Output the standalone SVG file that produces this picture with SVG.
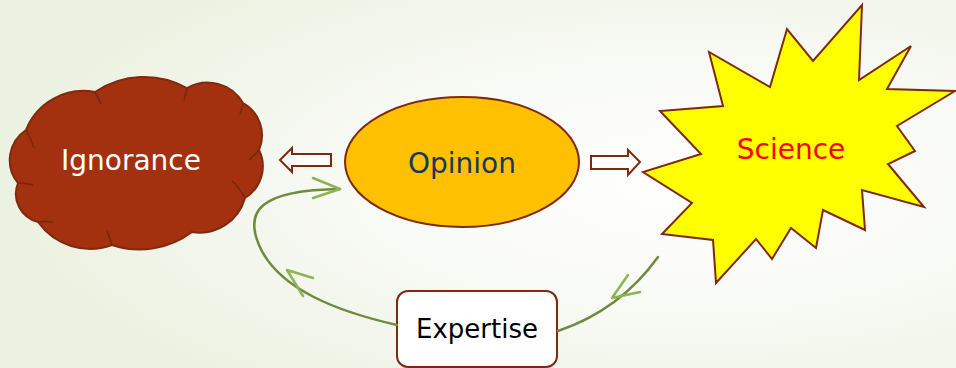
<svg xmlns="http://www.w3.org/2000/svg" width="956" height="368" viewBox="0 0 956 368">
<defs>
<radialGradient id="bg" cx="0.72" cy="0.5" r="0.75">
<stop offset="0" stop-color="#ffffff"/>
<stop offset="0.5" stop-color="#f7f9f3"/>
<stop offset="1" stop-color="#ebf1e0"/>
</radialGradient>
<style>
.shape{stroke:#7f2a0e;stroke-width:2;stroke-linejoin:miter}
.lbl{font-family:"DejaVu Sans",sans-serif;text-anchor:middle}
.conn{fill:none;stroke:#6f8c3e;stroke-width:2.5;stroke-linecap:round}
.head{fill:none;stroke:#8fb255;stroke-width:2.5;stroke-linecap:round;stroke-linejoin:round}
.crease{fill:none;stroke:#7a260c;stroke-width:1.5}
</style>
</defs>
<rect width="956" height="368" fill="url(#bg)"/>

<g id="ignorance">
<path class="shape" fill="#a3300f" d="M26,130 A62,62 0 0 1 95,92 A88,88 0 0 1 187,88 A41,41 0 0 1 243,103 A37,37 0 0 1 259,150 A37,37 0 0 1 245,198 A47,47 0 0 1 192,232 A87,87 0 0 1 112,245 A64,64 0 0 1 38,222 A29,29 0 0 1 18,183 A36,36 0 0 1 26,130 Z"/>
<path class="crease" d="M26,130 Q31,139 34,148"/>
<path class="crease" d="M95,92 Q98,98 101,104"/>
<path class="crease" d="M187,88 Q186,94 184,100"/>
<path class="crease" d="M243,103 Q242,109 240,114"/>
<path class="crease" d="M259,150 Q254,156 249,160"/>
<path class="crease" d="M245,198 Q240,188 232,181"/>
<path class="crease" d="M112,245 Q110,238 107,231"/>
<path class="crease" d="M38,222 Q45,221 53,222"/>
<path class="crease" d="M18,183 Q26,183 33,185"/>
<text class="lbl" x="131" y="170" font-size="28" fill="#ffffff">Ignorance</text>
</g>

<g id="opinion">
<ellipse class="shape" cx="462" cy="162" rx="117" ry="65" fill="#ffc000"/>
<text class="lbl" x="462" y="173" font-size="28" fill="#17375e">Opinion</text>
</g>

<g id="science">
<path class="shape" fill="#ffff00" d="M862,5 L859,80 L911,46 L887,89 L955,91 L897,126 L915,151 L888,164 L924,207 L862,190 L865,230 L823,210 L816,248 L791,228 L772,259 L756,239 L716,283 L713,240 L662,234 L692,203 L643,172 L701,154 L660,111 L723,106 L709,52 L770,87 L787,29 L813,61 Z"/>
<text class="lbl" x="791" y="159" font-size="28" fill="#ff0000">Science</text>
</g>

<g id="expertise">
<rect class="shape" x="397" y="291" width="160" height="76" rx="11" fill="#ffffff"/>
<text class="lbl" x="477" y="338" font-size="26" fill="#000000">Expertise</text>
</g>

<g id="connectors">
<path id="arrow-left" class="shape" fill="#ffffff" d="M331,154 L292,154 L292,148 L280,160 L292,172 L292,166 L331,166 Z"/>
<path id="arrow-right" class="shape" fill="#ffffff" d="M591,156 L628,156 L628,150 L640,162 L628,175 L628,169 L591,169 Z"/>
<path class="conn" d="M397,325 C340,312 278,290 259,245 C245,212 258,190 340,189"/>
<polyline class="head" points="313,178 340,189 313,198"/>
<polyline class="head" points="313,278 287,270 303,296"/>
<path class="conn" d="M658,257 Q620,310 558,331"/>
<polyline class="head" points="628,275 612,298 640,292"/>
</g>
</svg>
